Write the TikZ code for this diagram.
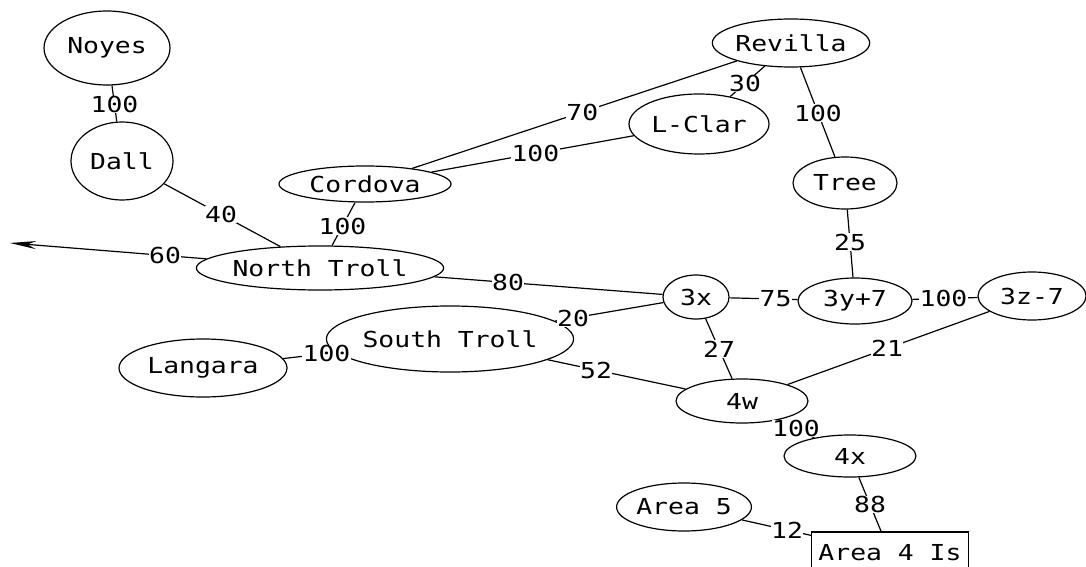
\documentclass[tikz,border=0pt]{standalone}
\usepackage{fontspec}
\newfontfamily\mono[FakeStretch=1.2]{DejaVu Sans Mono}
\usetikzlibrary{shapes.geometric,arrows.meta,calc}
\tikzset{
  nd/.style={ellipse, draw, line width=1.2pt, inner sep=0pt, font=\mono\fontsize{22}{26}\selectfont},
  boxnd/.style={rectangle, draw, line width=1.2pt, inner sep=0pt, font=\mono\fontsize{22}{26}\selectfont},
  lbl/.style={fill=white, inner sep=0.5pt, font=\mono\fontsize{22}{26}\selectfont},
  edge/.style={line width=1.2pt}
}
\begin{document}
\begin{tikzpicture}[x=1pt,y=-1pt]
\useasboundingbox (0,0) rectangle (1086,567);
\fill[white] (0,0) rectangle (1086,567);
% nodes
\node[nd, minimum width=126pt, minimum height=74pt] (noyes) at (107,48) {Noyes};
\node[nd, minimum width=102pt, minimum height=78pt] (dall) at (122,161) {Dall};
\node[nd, minimum width=172pt, minimum height=36pt] (cordova) at (365,184) {Cordova};
\node[nd, minimum width=196pt, minimum height=44pt] (ntroll) at (320,268) {North Troll};
\node[nd, minimum width=132pt, minimum height=48pt] (revilla) at (791,43) {Revilla};
\node[nd, minimum width=140pt, minimum height=60pt] (lclar) at (699,124) {L-Clar};
\node[nd, minimum width=104pt, minimum height=52pt] (tree) at (845,183) {Tree};
\node[nd, minimum width=66pt, minimum height=44pt] (tx) at (696,297) {3x};
\node[nd, minimum width=114pt, minimum height=46pt] (ty) at (855,301) {3y+7};
\node[nd, minimum width=108pt, minimum height=48pt] (tz) at (1032,296) {3z-7};
\node[nd, minimum width=188pt, minimum height=66pt] (stroll) at (450,339) {South Troll};
\node[nd, minimum width=168pt, minimum height=58pt] (langara) at (203,368) {Langara};
\node[nd, minimum width=132pt, minimum height=44pt] (fw) at (742,401) {4w};
\node[nd, minimum width=132pt, minimum height=42pt] (fx) at (850,456) {4x};
\node[nd, minimum width=114pt, minimum height=48pt] (afive) at (684,507) {Area 5};
\node[boxnd, minimum width=157pt, minimum height=42pt] (afour) at (890,553) {Area 4 Is};
\coordinate (west) at (10,243);
% edges
\draw[edge] (noyes) -- (dall);
\draw[edge] (dall) -- (ntroll);
\draw[edge] (cordova) -- (ntroll);
\draw[edge, -{Stealth[length=26pt,width=8pt]}] (ntroll) -- (west);
\draw[edge] (revilla) -- (cordova);
\draw[edge] (revilla) -- (lclar);
\draw[edge] (lclar) -- (cordova);
\draw[edge] (revilla) -- (tree);
\draw[edge] (tree) -- (ty);
\draw[edge] (ntroll) -- (tx);
\draw[edge] (stroll) -- (tx);
\draw[edge] (tx) -- (ty);
\draw[edge] (ty) -- (tz);
\draw[edge] (tx) -- (fw);
\draw[edge] (tz) -- (fw);
\draw[edge] (stroll) -- (fw);
\draw[edge] (langara) -- (stroll);
\draw[edge] (fw) -- (fx);
\draw[edge] (fx) -- (afour);
\draw[edge] (afive) -- (afour);
% labels
\node[lbl] (l1) at ($(noyes)!0.5!(dall)$) {100};
\node[lbl] (l2) at ($(dall)!0.5!(ntroll)$) {40};
\node[lbl] (l3) at ($(cordova)!0.5!(ntroll)$) {100};
\node[lbl] (l4) at ($(ntroll)!0.5!(west)$) {60};
\node[lbl] (l5) at ($(revilla)!0.49!(cordova)$) {70};
\node[lbl] (l6) at ($(revilla)!0.5!(lclar)$) {30};
\node[lbl] (l7) at ($(lclar)!0.49!(cordova)$) {100};
\node[lbl] (l8) at ($(revilla)!0.5!(tree)$) {100};
\node[lbl] (l9) at ($(tree)!0.5!(ty)$) {25};
\node[lbl] (l10) at ($(ntroll)!0.5!(tx)$) {80};
\node[lbl] (l11) at ($(stroll)!0.5!(tx)$) {20};
\node[lbl] (l12) at ($(tx)!0.5!(ty)$) {75};
\node[lbl] (l13) at ($(ty)!0.5!(tz)$) {100};
\node[lbl] (l14) at ($(tx)!0.5!(fw)$) {27};
\node[lbl] (l15) at ($(tz)!0.5!(fw)$) {21};
\node[lbl] (l16) at ($(stroll)!0.5!(fw)$) {52};
\node[lbl] (l17) at ($(langara)!0.5!(stroll)$) {100};
\node[lbl] (l18) at ($(fw)!0.5!(fx)$) {100};
\node[lbl] (l19) at ($(fx)!0.5!(afour)$) {88};
\node[lbl] (l20) at ($(afive)!0.5!(afour)$) {12};
\end{tikzpicture}
\end{document}
